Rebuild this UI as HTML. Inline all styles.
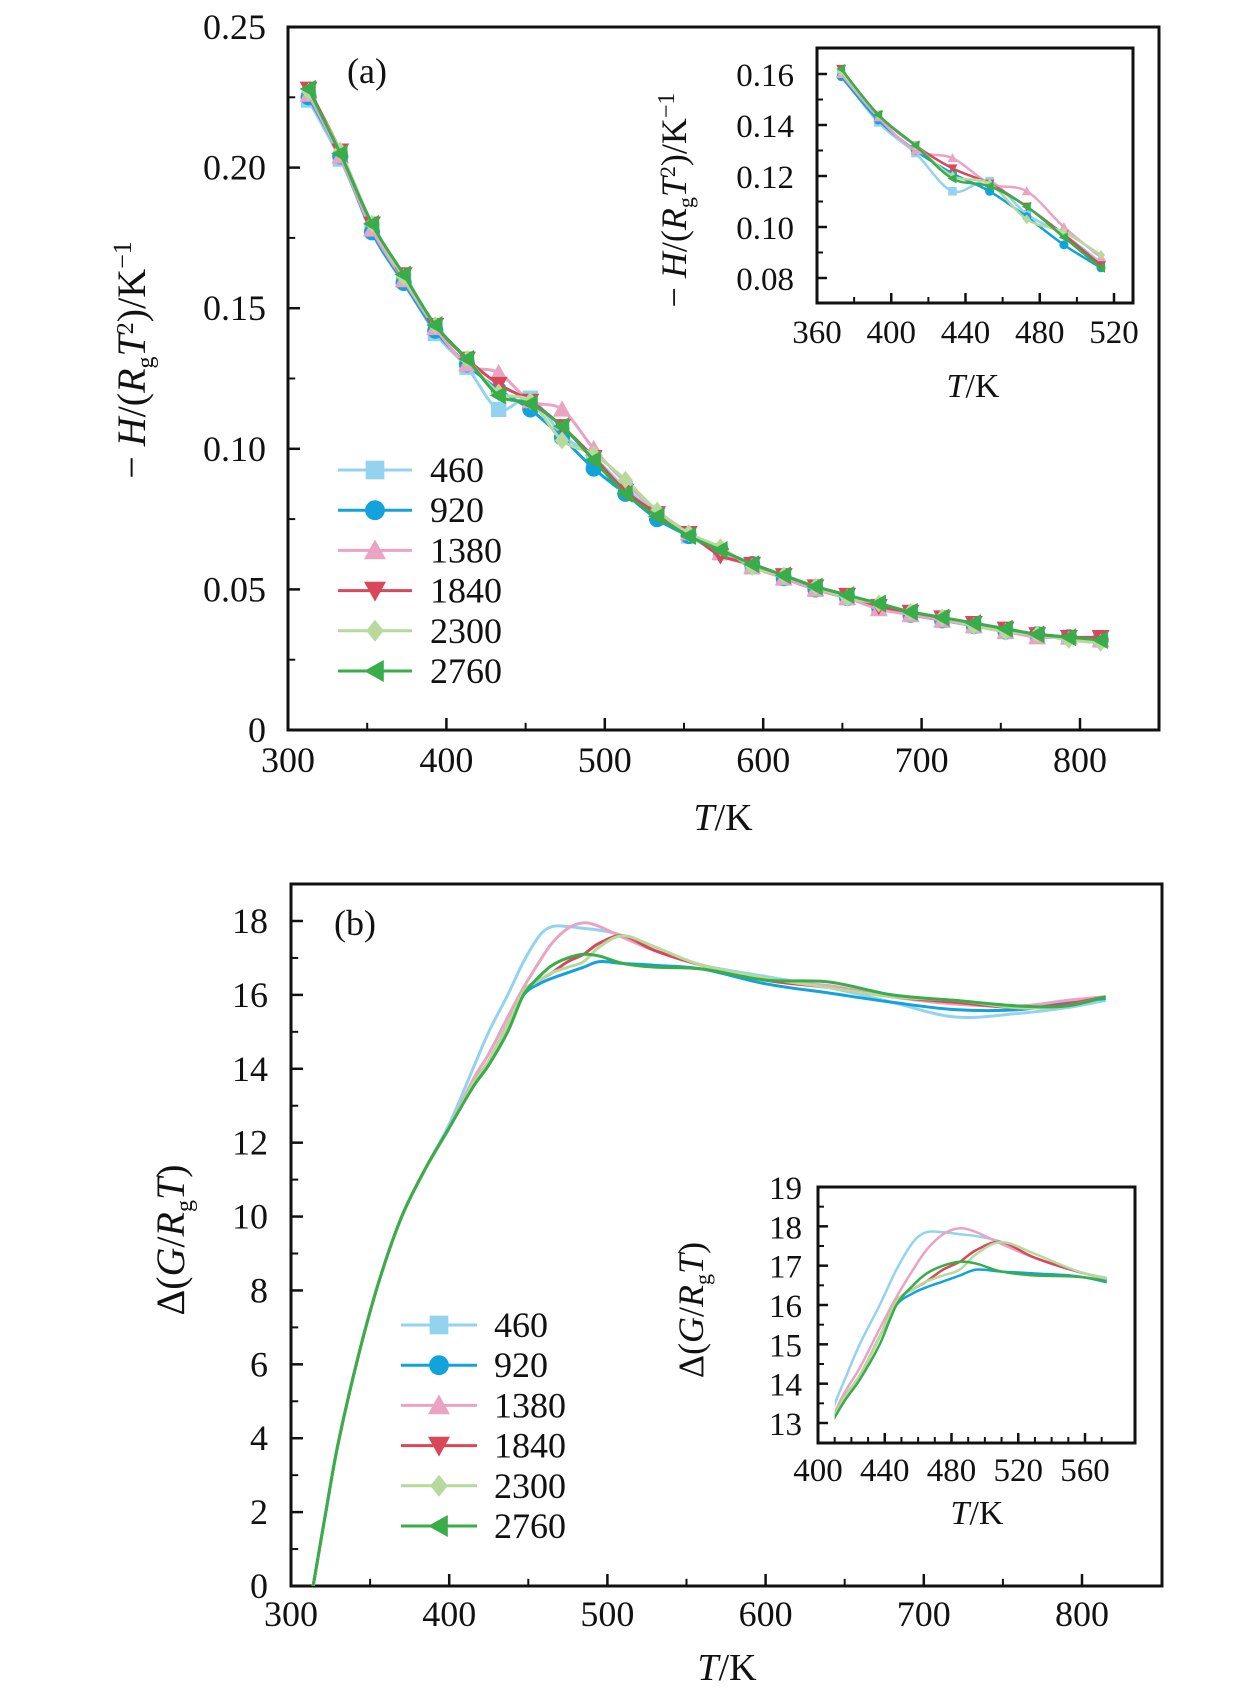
<!DOCTYPE html>
<html><head><meta charset="utf-8"><style>
html,body{margin:0;padding:0;background:#fff;overflow:hidden;}
svg{display:block;font-family:"Liberation Serif",serif;}
</style></head><body>
<svg id="fig" width="1260" height="1701" viewBox="0 0 1260 1701" xmlns="http://www.w3.org/2000/svg"></svg>
<script>
// ---- Panel (a) data ----
const seriesNames = ["460","920","1380","1840","2300","2760"];
const seriesColors = ["#93d3f0","#12a2dc","#eba3c3","#d9475a","#b7d99c","#38ad4a"];
const markerTypes = ["square","circle","up","down","diamond","left"];
const tempsA = [313,333,353,373,393,413,433,453,473,493,513,533,553,573,593,613,633,653,673,693,713,733,753,773,793,813];
const hA460  = [0.224,0.203,0.178,0.160,0.141,0.129,0.114,0.118,0.105,0.097,0.086,0.077,0.069,0.063,0.058,0.054,0.050,0.047,0.044,0.041,0.039,0.037,0.035,0.034,0.033,0.032];
const hA920  = [0.225,0.204,0.177,0.159,0.142,0.130,0.121,0.114,0.104,0.093,0.084,0.075,0.069,0.064,0.059,0.054,0.050,0.047,0.044,0.041,0.039,0.037,0.035,0.034,0.033,0.032];
const hA1380 = [0.226,0.204,0.178,0.160,0.143,0.130,0.127,0.117,0.114,0.100,0.088,0.078,0.070,0.063,0.058,0.054,0.050,0.047,0.043,0.041,0.039,0.037,0.035,0.033,0.033,0.032];
const hA1840 = [0.228,0.206,0.180,0.162,0.144,0.132,0.123,0.117,0.108,0.097,0.085,0.077,0.070,0.062,0.059,0.055,0.051,0.048,0.044,0.042,0.040,0.038,0.036,0.034,0.033,0.033];
const hA2300 = [0.227,0.206,0.180,0.161,0.144,0.132,0.120,0.117,0.103,0.098,0.089,0.078,0.070,0.065,0.058,0.055,0.051,0.047,0.045,0.042,0.040,0.037,0.035,0.034,0.032,0.031];
const hA2760 = [0.228,0.205,0.180,0.162,0.144,0.132,0.119,0.116,0.108,0.096,0.084,0.076,0.069,0.064,0.059,0.055,0.051,0.048,0.045,0.042,0.040,0.038,0.036,0.034,0.033,0.032];
const seriesA = [hA460,hA920,hA1380,hA1840,hA2300,hA2760];
const xTicksA = [300,400,500,600,700,800];
const yTicksA = [0,0.05,0.10,0.15,0.20,0.25];
const yTickLabelsA = ["0","0.05","0.10","0.15","0.20","0.25"];
const xTicksAi = [360,400,440,480,520];
const yTicksAi = [0.08,0.10,0.12,0.14,0.16];
const yTickLabelsAi = ["0.08","0.10","0.12","0.14","0.16"];

// ---- Panel (b) data ----
const tempsB = [314,322,330,343,356,370,385,400,415,425,437,447,457,465,475,485,495,510,530,560,600,640,680,720,760,790,815];
const gB460  = [0,2.0,3.9,6.3,8.3,10.0,11.3,12.5,14.0,15.0,16.0,16.9,17.6,17.85,17.85,17.8,17.75,17.6,17.2,16.8,16.5,16.2,15.8,15.4,15.5,15.65,15.85];
const gB920  = [0,2.0,3.9,6.3,8.3,10.0,11.3,12.4,13.6,14.2,15.2,16.0,16.3,16.45,16.6,16.75,16.9,16.85,16.8,16.7,16.3,16.05,15.8,15.6,15.6,15.8,15.9];
const gB1380 = [0,2.0,3.9,6.3,8.3,10.0,11.3,12.4,13.7,14.4,15.4,16.2,16.9,17.4,17.8,17.95,17.85,17.55,17.2,16.8,16.4,16.25,15.95,15.75,15.7,15.85,15.95];
const gB1840 = [0,2.0,3.9,6.3,8.3,10.0,11.3,12.4,13.6,14.2,15.2,16.1,16.4,16.6,16.9,17.1,17.4,17.6,17.2,16.8,16.4,16.2,15.95,15.8,15.65,15.75,15.95];
const gB2300 = [0,2.0,3.9,6.3,8.3,10.0,11.3,12.4,13.6,14.2,15.2,16.1,16.4,16.6,16.75,16.9,17.3,17.6,17.3,16.8,16.45,16.2,15.95,15.85,15.65,15.7,15.95];
const gB2760 = [0,2.0,3.9,6.3,8.3,10.0,11.3,12.4,13.5,14.1,15.0,16.0,16.5,16.8,17.0,17.1,17.05,16.85,16.75,16.7,16.4,16.35,16.0,15.85,15.7,15.7,15.95];
const seriesB = [gB460,gB920,gB1380,gB1840,gB2300,gB2760];
const xTicksB = [300,400,500,600,700,800];
const yTicksB = [0,2,4,6,8,10,12,14,16,18];
const xTicksBi = [400,440,480,520,560];
const yTicksBi = [13,14,15,16,17,18,19];

const NS="http://www.w3.org/2000/svg";
const svg=document.getElementById('fig');
function mk(tag,attrs,parent){const e=document.createElementNS(NS,tag);for(const k in attrs)e.setAttribute(k,attrs[k]);(parent||svg).appendChild(e);return e;}
function lin(d0,d1,r0,r1){return v=>r0+(v-d0)*(r1-r0)/(d1-d0);}
function smooth(pts){let d="M"+pts[0][0]+","+pts[0][1];for(let i=0;i<pts.length-1;i++){const p0=pts[i-1]||pts[i],p1=pts[i],p2=pts[i+1],p3=pts[i+2]||p2;const c1x=p1[0]+(p2[0]-p0[0])/6,c1y=p1[1]+(p2[1]-p0[1])/6,c2x=p2[0]-(p3[0]-p1[0])/6,c2y=p2[1]-(p3[1]-p1[1])/6;d+=" C"+c1x+","+c1y+" "+c2x+","+c2y+" "+p2[0]+","+p2[1];}return d;}
function marker(g,type,x,y,r,color){
  let e;
  if(type==="square")e=mk('rect',{x:x-r*0.85,y:y-r*0.85,width:r*1.7,height:r*1.7,fill:color},g);
  else if(type==="circle")e=mk('circle',{cx:x,cy:y,r:r*0.9,fill:color},g);
  else{let p;
    if(type==="up")p=[[x,y-r],[x+r,y+r*0.8],[x-r,y+r*0.8]];
    else if(type==="down")p=[[x,y+r],[x+r,y-r*0.8],[x-r,y-r*0.8]];
    else if(type==="diamond")p=[[x,y-r],[x+r*0.8,y],[x,y+r],[x-r*0.8,y]];
    else p=[[x-r,y],[x+r*0.8,y-r],[x+r*0.8,y+r]];
    e=mk('polygon',{points:p.map(q=>q.join(',')).join(' '),fill:color},g);}
  
  
}
function text(str,x,y,size,anchor,parent,name,extra){const t=mk('text',Object.assign({x:x,y:y,'font-size':size,'text-anchor':anchor||'middle',fill:'#111'},extra||{}),parent);t.textContent=str;return t;}
function frame(L,T,R,B,name){const r=mk('rect',{x:L,y:T,width:R-L,height:B-T,fill:'none',stroke:'#111','stroke-width':3});}
function ticksX(vals,minor,sx,B,len,labelY,fs,labels,name){const g=mk('g',{});
  vals.forEach((v,i)=>{mk('line',{x1:sx(v),x2:sx(v),y1:B,y2:B-len,stroke:'#111','stroke-width':2.5},g);text(labels?labels[i]:String(v),sx(v),labelY,fs,'middle',g,'x-tick-label');});
  minor.forEach(v=>mk('line',{x1:sx(v),x2:sx(v),y1:B,y2:B-len*0.6,stroke:'#111','stroke-width':2},g));}
function ticksY(vals,minor,sy,L,len,labelX,fs,labels,name){const g=mk('g',{});
  vals.forEach((v,i)=>{mk('line',{x1:L,x2:L+len,y1:sy(v),y2:sy(v),stroke:'#111','stroke-width':2.5},g);text(labels?labels[i]:String(v),labelX,sy(v)+12,fs,'end',g,'y-tick-label');});
  minor.forEach(v=>mk('line',{x1:L,x2:L+len*0.6,y1:sy(v),y2:sy(v),stroke:'#111','stroke-width':2},g));}
function legend(x0,x1,tx,y0,dy,name){const g=mk('g',{});
  seriesNames.forEach((s,i)=>{const y=y0+i*dy;const e=mk('g',{},g);
    mk('line',{x1:x0,x2:x1,y1:y,y2:y,stroke:seriesColors[i],'stroke-width':3},e);marker(e,markerTypes[i],(x0+x1)/2,y,11,seriesColors[i]);text(s,tx,y+12,36,'start',e,'legend-label');});}
function ylabelRot(parts,x,y,size,name){const t=mk('text',{x:0,y:0,'font-size':size,'text-anchor':'middle',fill:'#111',transform:`translate(${x},${y}) rotate(-90)`});
  parts.forEach(p=>{const s=mk('tspan',p.a||{},t);s.textContent=p.t;});return t;}

// ===== Panel (a) =====
(function(){
  const L=288,R=1159,T=27,B=730;
  const sx=lin(300,800,288,1080), sy=lin(0,0.25,730,27);
  frame(L,T,R,B,'panel-a-frame');
  ticksX(xTicksA,[350,450,550,650,750],sx,B,12,772,36,null,'panel-a-x-axis');
  ticksY(yTicksA,[0.025,0.075,0.125,0.175,0.225],sy,L,12,266,36,yTickLabelsA,'panel-a-y-axis');
  seriesA.forEach((ys,si)=>{const g=mk('g',{});
    const pts=tempsA.map((t,i)=>[sx(t),sy(ys[i])]);
    mk('path',{d:smooth(pts),fill:'none',stroke:seriesColors[si],'stroke-width':3},g);
    pts.forEach(p=>marker(g,markerTypes[si],p[0],p[1],9,seriesColors[si]));});
  text('(a)',367,83,36,'middle',null,'panel-a-label');
  legend(338,412,430,470,40.2,'panel-a-legend');
  const xt=mk('text',{x:723,y:830,'font-size':38,'text-anchor':'middle',fill:'#111'});
  const i1=mk('tspan',{'font-style':'italic'},xt);i1.textContent='T';const i2=mk('tspan',{},xt);i2.textContent='/K';
  ylabelRot([{t:'− '},{t:'H',a:{'font-style':'italic'}},{t:'/('},{t:'R',a:{'font-style':'italic'}},{t:'g',a:{'font-size':24,dy:8}},{t:'T',a:{'font-style':'italic',dy:-8}},{t:'2',a:{'font-size':24,dy:-12}},{t:')/K',a:{dy:12}},{t:'−1',a:{'font-size':26,dy:-14}}],145,360,40,'panel-a-y-title');

  // inset
  const iL=817,iR=1133,iT=48,iB=303;
  const ix=lin(360,520,817,1114), iy=lin(0.08,0.16,278,74);
  frame(iL,iT,iR,iB,'panel-a-inset-frame');
  ticksX(xTicksAi,[380,420,460,500],ix,iB,10,343,33,null,'panel-a-inset-x-axis');
  ticksY(yTicksAi,[0.09,0.11,0.13,0.15],iy,iL,10,794,33,yTickLabelsAi,'panel-a-inset-y-axis');
  seriesA.forEach((ys,si)=>{const g=mk('g',{});
    const pts=[];tempsA.forEach((t,i)=>{if(t>=373&&t<=513)pts.push([ix(t),iy(ys[i])]);});
    mk('path',{d:smooth(pts),fill:'none',stroke:seriesColors[si],'stroke-width':2.5},g);
    pts.forEach(p=>marker(g,markerTypes[si],p[0],p[1],5,seriesColors[si]));});
  const it=mk('text',{x:973,y:397,'font-size':34,'text-anchor':'middle',fill:'#111'});
  const j1=mk('tspan',{'font-style':'italic'},it);j1.textContent='T';const j2=mk('tspan',{},it);j2.textContent='/K';
  ylabelRot([{t:'− '},{t:'H',a:{'font-style':'italic'}},{t:'/('},{t:'R',a:{'font-style':'italic'}},{t:'g',a:{'font-size':22,dy:7}},{t:'T',a:{'font-style':'italic',dy:-7}},{t:'2',a:{'font-size':22,dy:-11}},{t:')/K',a:{dy:11}},{t:'−1',a:{'font-size':24,dy:-12}}],686,200,36,'panel-a-inset-y-title');
})();

// ===== Panel (b) =====
(function(){
  const L=291,R=1162,T=884,B=1586;
  const sx=lin(300,800,291,1082), sy=lin(0,18,1586,921);
  frame(L,T,R,B,'panel-b-frame');
  ticksX(xTicksB,[350,450,550,650,750],sx,B,12,1626,36,null,'panel-b-x-axis');
  ticksY(yTicksB,[1,3,5,7,9,11,13,15,17],sy,L,12,268,36,null,'panel-b-y-axis');
  const cp=mk('clipPath',{id:'clipB'});mk('rect',{x:L,y:T,width:R-L,height:B-T},cp);
  seriesB.forEach((ys,si)=>{const pts=tempsB.map((t,i)=>[sx(t),sy(ys[i])]);
    const p=mk('path',{d:smooth(pts),fill:'none',stroke:seriesColors[si],'stroke-width':3,'clip-path':'url(#clipB)'});
    });
  text('(b)',355,935,36,'middle',null,'panel-b-label');
  legend(401,477,494,1325,40.2,'panel-b-legend');
  const xt=mk('text',{x:727,y:1680,'font-size':38,'text-anchor':'middle',fill:'#111'});
  const i1=mk('tspan',{'font-style':'italic'},xt);i1.textContent='T';const i2=mk('tspan',{},xt);i2.textContent='/K';
  ylabelRot([{t:'Δ('},{t:'G',a:{'font-style':'italic'}},{t:'/'},{t:'R',a:{'font-style':'italic'}},{t:'g',a:{'font-size':24,dy:8}},{t:'T',a:{'font-style':'italic',dy:-8}},{t:')'}],184,1240,40,'panel-b-y-title');

  // inset
  const iL=818,iR=1135,iT=1187,iB=1443;
  const ix=lin(400,560,818,1085), iy=lin(13,19,1423,1187);
  frame(iL,iT,iR,iB,'panel-b-inset-frame');
  ticksX(xTicksBi,[410,420,430,450,460,470,490,500,510,530,540,550,570],ix,iB,10,1481,33,null,'panel-b-inset-x-axis');
  ticksY(yTicksBi,[13.5,14.5,15.5,16.5,17.5,18.5],iy,iL,10,802,33,null,'panel-b-inset-y-axis');
  const cp2=mk('clipPath',{id:'clipBi'});mk('rect',{x:ix(410),y:iT,width:ix(573)-ix(410),height:iB-iT},cp2);
  seriesB.forEach((ys,si)=>{const pts=tempsB.map((t,i)=>[ix(t),iy(ys[i])]);
    const p=mk('path',{d:smooth(pts),fill:'none',stroke:seriesColors[si],'stroke-width':2.5,'clip-path':'url(#clipBi)'});
    });
  const it=mk('text',{x:977,y:1524,'font-size':34,'text-anchor':'middle',fill:'#111'});
  const j1=mk('tspan',{'font-style':'italic'},it);j1.textContent='T';const j2=mk('tspan',{},it);j2.textContent='/K';
  ylabelRot([{t:'Δ('},{t:'G',a:{'font-style':'italic'}},{t:'/'},{t:'R',a:{'font-style':'italic'}},{t:'g',a:{'font-size':22,dy:7}},{t:'T',a:{'font-style':'italic',dy:-7}},{t:')'}],703,1310,36,'panel-b-inset-y-title');
})();
</script>
</body></html>
